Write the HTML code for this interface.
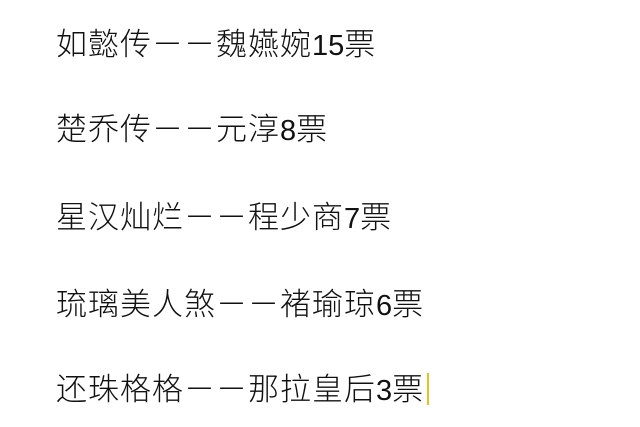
<!DOCTYPE html>
<html><head><meta charset="utf-8"><style>
body{margin:0;width:640px;height:427px;background:#fff;overflow:hidden;position:relative}
.l{position:absolute;left:56px;font-family:"Liberation Sans","Noto Sans CJK SC",sans-serif;font-weight:300;font-size:31px;line-height:34px;color:#111;white-space:nowrap;letter-spacing:1px}
.d{font-family:"Liberation Sans",sans-serif;font-size:29px;letter-spacing:0}
.cur{position:absolute;left:427px;top:373px;width:2px;height:32px;background:#e8c020}
</style></head><body>
<div class="l" style="top:28px">如懿传－－魏嬿婉<span class="d">15</span>票</div>
<div class="l" style="top:113px">楚乔传－－元淳<span class="d">8</span>票</div>
<div class="l" style="top:201px">星汉灿烂－－程少商<span class="d">7</span>票</div>
<div class="l" style="top:288px">琉璃美人煞－－褚瑜琼<span class="d">6</span>票</div>
<div class="l" style="top:373px">还珠格格－－那拉皇后<span class="d">3</span>票</div>
<div class="cur"></div>
</body></html>
